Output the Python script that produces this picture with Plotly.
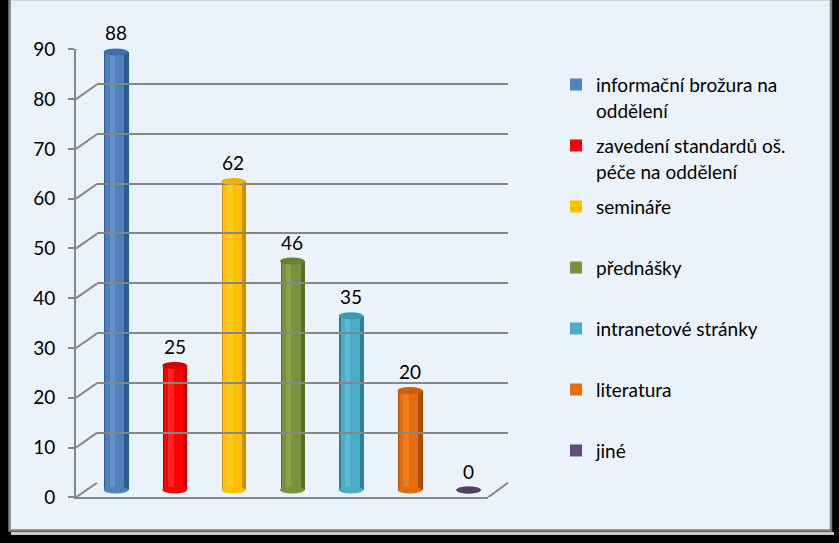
import plotly.graph_objects as go

# ---------------- data ----------------
categories = ["informační brožura na oddělení", "zavedení standardů oš. péče na oddělení",
              "semináře", "přednášky", "intranetové stránky", "literatura", "jiné"]
legend_labels = ["informační brožura na<br>oddělení", "zavedení standardů oš.<br>péče na oddělení",
                 "semináře<br> ", "přednášky<br> ", "intranetové stránky<br> ", "literatura<br> ", "jiné<br> "]
values = [88, 25, 62, 46, 35, 20, 0]
y_ticks = [0, 10, 20, 30, 40, 50, 60, 70, 80, 90]

main_colors = ["#4F81BD", "#FF0000", "#FFC000", "#77933C", "#4BACC6", "#E46C0A", "#604A7B"]
dark_colors = ["#2F5B91", "#B80000", "#C89200", "#55702A", "#2D8098", "#A84E05", "#45345C"]
light_colors = ["#7CA6DA", "#FF5050", "#FFD65A", "#98B85A", "#7FCDE0", "#F5934A", "#8268A6"]
cap_colors = ["#3F6FA8", "#D00000", "#F0B000", "#68832F", "#3E9AB3", "#D06008", "#53406C"]

# ---------------- geometry (pixels) ----------------
W, H = 839, 543
def fx(px):
    return px / W
def fy(py):
    return 1 - py / H

GRID = "#868686"
FONT = "Lato"
FS = 19
PX_PER_UNIT = (497.3 - 49.3) / 90.0
DEPTH_PX = 14.6
DEPTH_U = DEPTH_PX / PX_PER_UNIT
BAR_W = 0.415
CAP_U = 3.5 / PX_PER_UNIT

fig = go.Figure()

# cylinder body: dark edge layer
fig.add_trace(go.Bar(x=categories, y=values, xaxis="x2", yaxis="y2", width=BAR_W,
                     marker=dict(color=dark_colors, line=dict(width=0)),
                     showlegend=False, hoverinfo="skip", legendgroup="g_base"))
# main colour layers (one per category for the legend)
for k, (cat, lab, v, c) in enumerate(zip(categories, legend_labels, values, main_colors)):
    lab_html = "<br>".join("<span style='font-size:%dpx'>%s</span>" % (FS, p) for p in lab.split("<br>"))
    fig.add_trace(go.Bar(x=[cat], y=[v], xaxis="x2", yaxis="y2", name=lab_html, legendgroup="g%d" % k,
                         width=BAR_W * 0.78, offset=-BAR_W * 0.45,
                         marker=dict(color=c, line=dict(width=0)), hoverinfo="skip"))
# highlight layer
fig.add_trace(go.Bar(x=categories, y=values, xaxis="x2", yaxis="y2",
                     width=BAR_W * 0.22, offset=-BAR_W * 0.28,
                     marker=dict(color=light_colors, opacity=0.45, line=dict(width=0)),
                     showlegend=False, hoverinfo="skip", legendgroup="g_hl"))

shapes = []
# chart panel
shapes.append(dict(type="line", xref="paper", yref="paper", x0=fx(11), x1=fx(834), y0=fy(533.5), y1=fy(533.5),
                   line=dict(color="#C8C8C8", width=3), layer="below"))
shapes.append(dict(type="rect", xref="paper", yref="paper", x0=fx(9.5), x1=fx(831), y0=fy(530.5), y1=fy(-1),
                   fillcolor="#EAF3FC", line=dict(color="#808080", width=2.5), layer="below"))
# side wall connectors from front axis ticks to back wall gridlines
for v in y_ticks:
    shapes.append(dict(type="line", xref="paper", yref="y", x0=fx(76), x1=fx(97), y0=v, y1=v + DEPTH_U,
                       line=dict(color=GRID, width=2)))
# floor right edge
shapes.append(dict(type="line", xref="paper", yref="y", x0=fx(488), x1=fx(508), y0=0, y1=DEPTH_U,
                   line=dict(color=GRID, width=2)))
# cylinder ends
for i, (v, c, cc) in enumerate(zip(values, main_colors, cap_colors)):
    shapes.append(dict(type="circle", xref="x2", yref="y2", x0=i - BAR_W / 2, x1=i + BAR_W / 2,
                       y0=-CAP_U, y1=CAP_U, fillcolor=c, line=dict(width=0)))
    shapes.append(dict(type="circle", xref="x2", yref="y2", x0=i - BAR_W / 2, x1=i + BAR_W / 2,
                       y0=v - CAP_U, y1=v + CAP_U, fillcolor=cc, line=dict(width=0)))

annotations = []
for cat, v in zip(categories, values):
    annotations.append(dict(x=cat, y=v, xref="x2", yref="y2", text=str(v), showarrow=False,
                            yshift=19, font=dict(family=FONT, size=FS, color="#000000")))

y2_bottom = 490 + 2 * PX_PER_UNIT

fig.update_layout(
    width=W, height=H,
    margin=dict(l=0, r=0, t=0, b=0, pad=0, autoexpand=False),
    paper_bgcolor="#000000",
    plot_bgcolor="rgba(0,0,0,0)",
    barmode="overlay",
    bargap=0,
    font=dict(family=FONT, size=FS, color="#000000"),
    shapes=shapes,
    annotations=annotations,
    xaxis=dict(domain=[fx(76), fx(488)], range=[0, 1], anchor="y", showline=True, linecolor=GRID,
               linewidth=2, showticklabels=False, showgrid=False, zeroline=False, ticks="",
               automargin=False, fixedrange=True),
    yaxis=dict(domain=[fy(497.3), fy(49.3)], range=[0, 90], anchor="x", tickvals=y_ticks,
               ticks="outside", ticklen=6, tickwidth=2, tickcolor=GRID, showline=True, linecolor=GRID,
               linewidth=2, showgrid=False, zeroline=False, ticklabelstandoff=9, automargin=False,
               tickfont=dict(family=FONT, size=FS, color="#000000"), fixedrange=True),
    xaxis2=dict(domain=[fx(86.5), fx(498)], range=[-0.5, 6.5], anchor="y2", visible=False,
                type="category", automargin=False, fixedrange=True),
    yaxis2=dict(domain=[fy(y2_bottom), fy(42)], range=[-2, 90], anchor="x2", visible=False,
                automargin=False, fixedrange=True),
    xaxis3=dict(domain=[fx(97), fx(508)], range=[0, 1], anchor="y3", visible=True, showline=False,
                showticklabels=False, showgrid=False, zeroline=False, ticks="", automargin=False,
                fixedrange=True),
    yaxis3=dict(domain=[fy(482.7), fy(34)], range=[-0.05, 90.05], anchor="x3", tickvals=y_ticks,
                showticklabels=False, ticks="", showline=False, zeroline=False, showgrid=True,
                gridcolor=GRID, gridwidth=2, automargin=False, fixedrange=True),
    legend=dict(x=fx(556), y=fy(65), xanchor="left", yanchor="top", bgcolor="rgba(0,0,0,0)",
                traceorder="grouped", valign="top", tracegroupgap=6,
                font=dict(family=FONT, size=20, color="#000000"),
                itemclick=False, itemdoubleclick=False),
    showlegend=True,
)

# keep the back-wall subplot alive
fig.add_trace(go.Scatter(x=[0.5], y=[0], xaxis="x3", yaxis="y3", mode="markers",
                         marker=dict(size=1, opacity=0), showlegend=False, hoverinfo="skip"))

fig.write_html("out.html")
